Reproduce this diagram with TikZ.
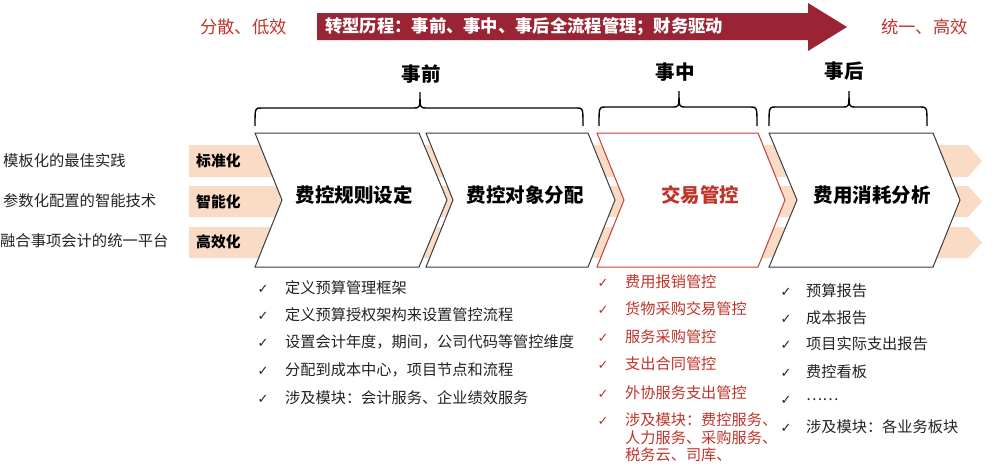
\documentclass[tikz,border=0pt]{standalone}
\usepackage{fontspec}
\setmainfont{Noto Sans CJK SC}
\newfontfamily\symfont{DejaVu Sans}
\definecolor{darkred}{RGB}{155,36,52}
\definecolor{tred}{RGB}{192,52,42}
\definecolor{peach}{RGB}{249,219,198}
\definecolor{txt}{RGB}{35,35,35}
\definecolor{edge}{RGB}{60,60,60}
\definecolor{redge}{RGB}{200,60,50}
\tikzset{
  side/.style={anchor=west,inner sep=0pt,text=txt,font=\fontsize{15.3}{18}\selectfont},
  tag/.style={anchor=west,inner sep=0pt,text=black,font=\fontsize{14.8}{17}\selectfont\bfseries},
  title/.style={inner sep=0pt,font=\fontsize{19.5}{22}\selectfont\bfseries},
  phase/.style={inner sep=0pt,font=\fontsize{19.5}{22}\selectfont\bfseries},
  item/.style={anchor=west,inner sep=0pt,text=txt,font=\fontsize{15.2}{17}\selectfont},
  ritem/.style={anchor=west,inner sep=0pt,text=tred,font=\fontsize{15.2}{17}\selectfont},
  chk/.style={inner sep=0pt,text=txt,font=\symfont\fontsize{13}{14}\selectfont},
  rchk/.style={inner sep=0pt,text=tred,font=\symfont\fontsize{13}{14}\selectfont},
  chev/.style={fill=white,draw=edge,line width=1pt,line join=miter},
  rchev/.style={fill=white,draw=redge,line width=1pt,line join=miter},
  band/.style={fill=peach},
  bracestyle/.style={draw=black,line width=1.4pt},
  endtext/.style={inner sep=0pt,text=tred,font=\fontsize{17.3}{20}\selectfont},
}
\begin{document}
\begin{tikzpicture}[x=1pt,y=-1pt]
\useasboundingbox[fill=white] (0,0) rectangle (1000,475);

% top arrow
\fill[darkred] (317,13) -- (808,13) -- (808,3) -- (847,27) -- (808,51) -- (808,40) -- (317,40) -- cycle;
\node[anchor=west,inner sep=0pt,text=white,font=\fontsize{17.3}{20}\selectfont\bfseries] (arrowtxt) at (325,26.5) {转型历程：事前、事中、事后全流程管理；财务驱动};
\node[endtext] (start) at (243.5,27) {分散、低效};
\node[endtext] (goal) at (924.5,27) {统一、高效};

% phase labels and braces
\node[phase] (pre) at (421,74) {事前};
\node[phase] (mid) at (675,72) {事中};
\node[phase] (post) at (844,71) {事后};

\draw[bracestyle] (255,126) .. controls (255,108) .. (261,108) -- (414,108) .. controls (420,108) .. (420,92) .. controls (420,108) .. (426,108) -- (577,108) .. controls (583,108) .. (583,126);
\draw[bracestyle] (599,126) .. controls (599,107) .. (605,107) -- (673,107) .. controls (679,107) .. (679,91) .. controls (679,107) .. (685,107) -- (751,107) .. controls (757,107) .. (757,126);
\draw[bracestyle] (769,126) .. controls (769,107) .. (775,107) -- (843,107) .. controls (849,107) .. (849,91) .. controls (849,107) .. (855,107) -- (921,107) .. controls (927,107) .. (927,126);

% bands
\fill[band] (189,145) -- (968,145) -- (982,161) -- (968,177) -- (189,177) -- cycle;
\fill[band] (189,186) -- (968,186) -- (982,201.5) -- (968,217) -- (189,217) -- cycle;
\fill[band] (189,227) -- (968,227) -- (982,242.5) -- (968,258) -- (189,258) -- cycle;

% chevrons
\draw[chev] (255,133) -- (419,133) -- (447,200) -- (419,267) -- (255,267) -- (282,200) -- cycle;
\draw[chev] (426,133) -- (588,133) -- (615,200) -- (588,267) -- (426,267) -- (453,200) -- cycle;
\draw[rchev] (597,133) -- (758,133) -- (785,200) -- (758,267) -- (597,267) -- (624,200) -- cycle;
\draw[chev] (769,133) -- (933,133) -- (960,200) -- (933,267) -- (769,267) -- (797,200) -- cycle;

\node[title] (c1) at (354,195) {费控规则设定};
\node[title] (c2) at (525,195) {费控对象分配};
\node[title,text=tred] (c3) at (700,195) {交易管控};
\node[title] (c4) at (872,195) {费用消耗分析};

% band tags and side texts
\node[tag] (t1) at (196,161) {标准化};
\node[tag] (t2) at (196,201.5) {智能化};
\node[tag] (t3) at (196,242) {高效化};
\node[side] (s1) at (3,161) {模板化的最佳实践};
\node[side] (s2) at (3,201) {参数化配置的智能技术};
\node[side] (s3) at (0,241) {融合事项会计的统一平台};

% list 1
\node[chk] (k11) at (263,289) {✓};
\node[item] (a1) at (285,288) {定义预算管理框架};
\node[chk] (k12) at (263,316) {✓};
\node[item] (a2) at (285,315) {定义预算授权架构来设置管控流程};
\node[chk] (k13) at (263,343) {✓};
\node[item] (a3) at (285,342) {设置会计年度，期间，公司代码等管控维度};
\node[chk] (k14) at (263,371) {✓};
\node[item] (a4) at (285,370) {分配到成本中心，项目节点和流程};
\node[chk] (k15) at (263,399) {✓};
\node[item] (a5) at (285,398) {涉及模块：会计服务、企业绩效服务};

% list 2
\node[rchk] (k21) at (603,283) {✓};
\node[ritem] (b1) at (625,282) {费用报销管控};
\node[rchk] (k22) at (603,310) {✓};
\node[ritem] (b2) at (625,309) {货物采购交易管控};
\node[rchk] (k23) at (603,338) {✓};
\node[ritem] (b3) at (625,337) {服务采购管控};
\node[rchk] (k24) at (603,365) {✓};
\node[ritem] (b4) at (625,364) {支出合同管控};
\node[rchk] (k25) at (603,394) {✓};
\node[ritem] (b5) at (625,393) {外协服务支出管控};
\node[rchk] (k26) at (603,421) {✓};
\node[ritem] (b6) at (625,420) {涉及模块：费控服务、};
\node[ritem] (b7) at (625,438) {人力服务、采购服务、};
\node[ritem] (b8) at (625,455) {税务云、司库、};

% list 3
\node[chk] (k31) at (786,292) {✓};
\node[item] (d1) at (806,291) {预算报告};
\node[chk] (k32) at (786,319) {✓};
\node[item] (d2) at (806,318) {成本报告};
\node[chk] (k33) at (786,345) {✓};
\node[item] (d3) at (806,344) {项目实际支出报告};
\node[chk] (k34) at (786,373) {✓};
\node[item] (d4) at (806,372) {费控看板};
\node[chk] (k35) at (786,400) {✓};
\node[item] (d5) at (806,400) {……};
\node[chk] (k36) at (786,428) {✓};
\node[item] (d6) at (806,427) {涉及模块：各业务板块};
\end{tikzpicture}
\end{document}
